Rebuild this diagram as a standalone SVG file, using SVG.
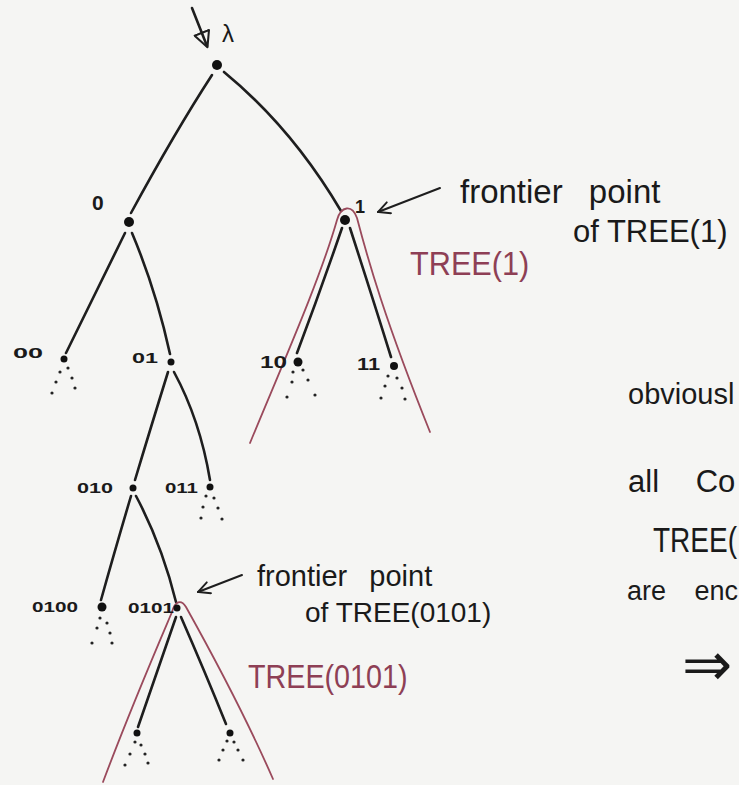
<svg xmlns="http://www.w3.org/2000/svg" width="739" height="785" viewBox="0 0 739 785">
<defs>
<style>
.edge{fill:none;stroke:#1e1e1e;stroke-width:2.6;stroke-linecap:round}
.red{fill:none;stroke:#9a4a5c;stroke-width:1.8;stroke-linecap:round;stroke-linejoin:round}
.dot{fill:#111}
.dd{fill:#222}
.lbl{font-family:"Liberation Sans","DejaVu Sans",sans-serif;fill:#1a1a1a;font-weight:bold}
.greek{font-family:"Liberation Sans","DejaVu Sans",sans-serif;fill:#1a1a1a;font-weight:normal}
.hand{font-family:"Liberation Sans","DejaVu Sans",sans-serif;fill:#1a1a1a}
.rtxt{font-family:"Liberation Sans","DejaVu Sans",sans-serif;fill:#8e3f55}
.ann{fill:none;stroke:#1e1e1e;stroke-width:2;stroke-linecap:round}
</style>
<marker id="vhead" viewBox="0 0 12 12" refX="11" refY="6" markerWidth="14" markerHeight="14" markerUnits="userSpaceOnUse" orient="auto">
<path d="M1,1 L11,6 L1,11" fill="none" stroke="#1e1e1e" stroke-width="1.6" stroke-linecap="round"/>
</marker>
<marker id="tri" viewBox="0 0 14 14" refX="12" refY="7" markerWidth="18" markerHeight="18" markerUnits="userSpaceOnUse" orient="auto">
<path d="M1,1 L13,7 L1,13 Z" fill="none" stroke="#1e1e1e" stroke-width="1.6" stroke-linejoin="round"/>
</marker>
</defs>
<rect width="739" height="785" fill="#f5f5f3"/>

<g id="connectors">
<path class="edge" d="M192,8 L207,46" marker-end="url(#tri)"/>
<path class="edge" d="M212,75 Q175,132 131,213"/>
<path class="edge" d="M224,72 Q292,128 341,211"/>
<path class="edge" d="M125,233 Q96,292 66,353"/>
<path class="edge" d="M132,233 Q156,290 170,354"/>
<path class="edge" d="M342,228 Q320,292 297,353"/>
<path class="edge" d="M350,228 Q372,296 391,357"/>
<path class="edge" d="M168,372 Q150,430 135,480"/>
<path class="edge" d="M174,372 Q200,420 210,480"/>
<path class="edge" d="M131,496 Q115,550 101,600"/>
<path class="edge" d="M136,496 Q162,545 176,602"/>
<path class="edge" d="M176,617 Q156,675 138,727"/>
<path class="edge" d="M181,617 Q205,672 226,724"/>
</g>

<g id="tree1-outline">
<path class="red" d="M250,443 C280,370 320,280 337,220 C341,206 352,204 357,218 C368,260 385,320 430,432"/>
</g>
<g id="tree0101-outline">
<path class="red" d="M103,782 C130,710 158,645 172,612 C175,601 181,599 186,607 C210,650 245,715 273,779"/>
</g>

<g id="node-root">
<circle class="dot" cx="217" cy="65" r="5"/>
<text class="greek" x="222" y="42" font-size="24">λ</text>
</g>
<g id="node-0">
<circle class="dot" cx="129" cy="222" r="5"/>
<text class="lbl" x="92" y="210" font-size="21">0</text>
</g>
<g id="node-1">
<circle class="dot" cx="345" cy="220" r="5"/>
<text class="lbl" x="355" y="213" font-size="18">1</text>
</g>
<g id="node-00">
<circle class="dot" cx="64" cy="359" r="3.5"/>
<text class="lbl" x="13" y="358" font-size="15" textLength="30" lengthAdjust="spacingAndGlyphs">00</text>
<g class="dd"><circle cx="60" cy="372" r="1.6"/><circle cx="56" cy="382" r="1.6"/><circle cx="52" cy="393" r="1.6"/><circle cx="68" cy="368" r="1.6"/><circle cx="72" cy="378" r="1.6"/><circle cx="75" cy="388" r="1.6"/></g>
</g>
<g id="node-01">
<circle class="dot" cx="171" cy="362" r="3.5"/>
<text class="lbl" x="132" y="363" font-size="15" textLength="26" lengthAdjust="spacingAndGlyphs">01</text>
</g>
<g id="node-10">
<circle class="dot" cx="298" cy="362" r="4.5"/>
<text class="lbl" x="260" y="368" font-size="16" textLength="27" lengthAdjust="spacingAndGlyphs">10</text>
<g class="dd"><circle cx="293" cy="372" r="1.6"/><circle cx="292" cy="382" r="1.6"/><circle cx="287" cy="397" r="1.6"/><circle cx="303" cy="370" r="1.6"/><circle cx="308" cy="380" r="1.6"/><circle cx="315" cy="395" r="1.6"/></g>
</g>
<g id="node-11">
<circle class="dot" cx="394" cy="366" r="4"/>
<text class="lbl" x="357" y="370" font-size="16" textLength="23" lengthAdjust="spacingAndGlyphs">11</text>
<g class="dd"><circle cx="388" cy="376" r="1.6"/><circle cx="385" cy="386" r="1.6"/><circle cx="381" cy="398" r="1.6"/><circle cx="397" cy="378" r="1.6"/><circle cx="402" cy="388" r="1.6"/><circle cx="405" cy="399" r="1.6"/></g>
</g>
<g id="node-010">
<circle class="dot" cx="133" cy="488" r="3.5"/>
<text class="lbl" x="77" y="493" font-size="14" textLength="36" lengthAdjust="spacingAndGlyphs">010</text>
</g>
<g id="node-011">
<circle class="dot" cx="210" cy="487" r="3.5"/>
<text class="lbl" x="165" y="493" font-size="14" textLength="33" lengthAdjust="spacingAndGlyphs">011</text>
<g class="dd"><circle cx="206" cy="496" r="1.6"/><circle cx="203" cy="507" r="1.6"/><circle cx="201" cy="518" r="1.6"/><circle cx="214" cy="498" r="1.6"/><circle cx="218" cy="508" r="1.6"/><circle cx="222" cy="519" r="1.6"/></g>
</g>
<g id="node-0100">
<circle class="dot" cx="102" cy="607" r="4.5"/>
<text class="lbl" x="32" y="612" font-size="14" textLength="46" lengthAdjust="spacingAndGlyphs">0100</text>
<g class="dd"><circle cx="100" cy="618" r="1.6"/><circle cx="97" cy="628" r="1.6"/><circle cx="92" cy="643" r="1.6"/><circle cx="107" cy="623" r="1.6"/><circle cx="110" cy="633" r="1.6"/><circle cx="112" cy="643" r="1.6"/></g>
</g>
<g id="node-0101">
<circle class="dot" cx="177" cy="608" r="3.5"/>
<text class="lbl" x="128" y="613" font-size="14" textLength="46" lengthAdjust="spacingAndGlyphs">0101</text>
</g>
<g id="node-01010">
<circle class="dot" cx="137" cy="733" r="3.5"/>
<g class="dd"><circle cx="135" cy="742" r="1.6"/><circle cx="130" cy="754" r="1.6"/><circle cx="125" cy="765" r="1.6"/><circle cx="141" cy="745" r="1.6"/><circle cx="145" cy="754" r="1.6"/><circle cx="148" cy="763" r="1.6"/></g>
</g>
<g id="node-01011">
<circle class="dot" cx="230" cy="733" r="3.5"/>
<g class="dd"><circle cx="227" cy="741" r="1.6"/><circle cx="223" cy="750" r="1.6"/><circle cx="219" cy="760" r="1.6"/><circle cx="234" cy="742" r="1.6"/><circle cx="238" cy="750" r="1.6"/><circle cx="243" cy="760" r="1.6"/></g>
</g>

<g id="annotation-tree1">
<path class="ann" d="M440,188 L378,212" marker-end="url(#vhead)"/>
<text class="hand" x="460" y="203" font-size="33" word-spacing="17">frontier point</text>
<text class="hand" x="573" y="242" font-size="31">of TREE(1)</text>
<text class="rtxt" transform="translate(410,275) scale(0.93,1)" font-size="33">TREE(1)</text>
</g>
<g id="annotation-tree0101">
<path class="ann" d="M242,575 L198,592" marker-end="url(#vhead)"/>
<text class="hand" x="257" y="586" font-size="29" word-spacing="14">frontier point</text>
<text class="hand" x="305" y="622" font-size="28">of TREE(0101)</text>
<text class="rtxt" transform="translate(248,688) scale(0.87,1)" font-size="33">TREE(0101)</text>
</g>
<g id="side-text">
<text class="hand" x="628" y="404" font-size="29">obviousl</text>
<text class="hand" x="628" y="492" font-size="31" word-spacing="28">all Co</text>
<text class="hand" transform="translate(653,552) scale(0.8,1)" font-size="35">TREE(</text>
<text class="hand" x="627" y="600" font-size="27" word-spacing="21">are enc</text>
<text x="682" y="685" font-size="60" font-family="DejaVu Sans, sans-serif" fill="#1a1a1a">⇒</text>
</g>
</svg>
